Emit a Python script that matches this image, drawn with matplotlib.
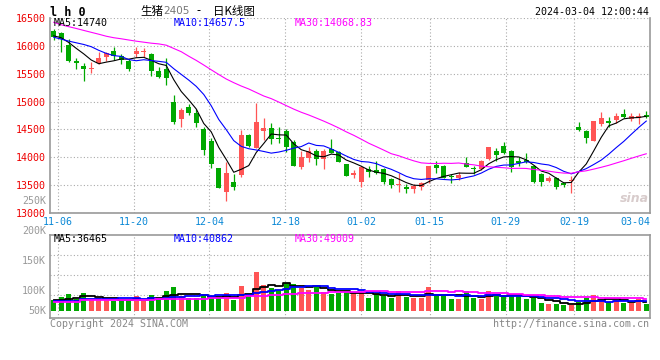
import numpy as np
import pandas as pd
import matplotlib
matplotlib.use("Agg")
import matplotlib.pyplot as plt

# ---- data (LH2405 daily K, 2023-11-03 .. 2024-03-04) ----
holidays = ["2024-01-01", "2024-02-09", "2024-02-12", "2024-02-13",
            "2024-02-14", "2024-02-15", "2024-02-16"]
tick_dates = ["11-06", "11-20", "12-04", "12-18", "01-02",
              "01-15", "01-29", "02-19", "03-04"]

opens = [16275, 16225, 16015, 15735, 15640, 15590, 15700, 15805, 15910, 15820,
         15730, 15850, 15895, 15850, 15555, 15580, 14990, 14695, 14905, 14795,
         14510, 14290, 13800, 13380, 13560, 13680, 14400, 14160, 14480, 14530,
         14340, 14470, 14280, 13820, 13980, 14115, 13965, 14145, 14095, 13880,
         13680, 13560, 13785, 13770, 13790, 13605, 13500, 13470, 13430, 13460,
         13590, 13860, 13845, 13670, 13620, 13905, 13815, 13790, 13965, 14115,
         14200, 14120, 13940, 13950, 13845, 13700, 13580, 13620, 13530, 13580,
         14550, 14470, 14300, 14590, 14655, 14670, 14775, 14695, 14700, 14760]
highs = [16300, 16245, 16115, 15775, 15700, 15705, 15895, 15895, 15985, 15850,
         15760, 15985, 15955, 15875, 15625, 15785, 15120, 14890, 14955, 14865,
         14550, 14350, 13815, 13920, 13695, 14490, 14420, 14980, 14700, 14620,
         14550, 14500, 14310, 14115, 14190, 14145, 14145, 14330, 14115, 13880,
         13770, 13845, 13845, 13935, 13800, 13620, 13710, 13515, 13515, 13560,
         13845, 13940, 13860, 13700, 13740, 14000, 13845, 13950, 14180, 14160,
         14280, 14130, 14010, 14085, 13860, 13710, 13665, 13650, 13545, 13665,
         14640, 14490, 14650, 14815, 14730, 14790, 14860, 14790, 14790, 14835]
lows = [16110, 15895, 15705, 15580, 15375, 15520, 15670, 15735, 15745, 15670,
        15555, 15805, 15805, 15465, 15420, 15295, 14590, 14550, 14760, 14550,
        14040, 13800, 13440, 13220, 13415, 13650, 14190, 14160, 14310, 14240,
        14250, 14100, 13840, 13790, 13920, 13860, 13790, 14070, 13920, 13665,
        13620, 13475, 13640, 13700, 13515, 13445, 13385, 13355, 13355, 13415,
        13545, 13710, 13620, 13545, 13590, 13820, 13700, 13770, 13950, 13940,
        14055, 13740, 13845, 13905, 13530, 13485, 13560, 13430, 13470, 13355,
        14480, 14260, 14300, 14560, 14550, 14620, 14700, 14650, 14590, 14700]
closes = [16155, 16115, 15730, 15700, 15580, 15605, 15780, 15875, 15820, 15745,
          15585, 15910, 15910, 15555, 15435, 15430, 14635, 14850, 14800, 14620,
          14130, 13880, 13455, 13720, 13470, 14400, 14210, 14630, 14530, 14320,
          14325, 14190, 13845, 14000, 14115, 13970, 14115, 14085, 13920, 13665,
          13710, 13820, 13740, 13725, 13560, 13500, 13520, 13425, 13490, 13530,
          13845, 13800, 13620, 13640, 13680, 13830, 13795, 13935, 14180, 14040,
          14085, 13820, 13905, 13920, 13560, 13560, 13620, 13470, 13500, 13590,
          14490, 14350, 14650, 14710, 14620, 14740, 14730, 14740, 14740, 14730]
volumes = [43500, 55300, 68300, 47400, 72300, 43500, 52500, 43500, 40700, 40700,
           43500, 60400, 40700, 63200, 43500, 80200, 96000, 60400, 52500, 52500,
           63200, 52500, 52500, 71100, 43500, 99900, 68300, 155200, 103900, 92000,
           84100, 110600, 107800, 92000, 84100, 96000, 76200, 65200, 69900, 79000,
           72300, 72300, 52500, 66000, 60400, 52500, 79000, 56500, 52500, 52500,
           94800, 60400, 60400, 47400, 47400, 79000, 52500, 47400, 79000, 60400,
           60400, 60400, 60400, 47400, 52500, 31600, 28800, 28800, 23700, 23700,
           36700, 50200, 63200, 43500, 36700, 43500, 31600, 31600, 47400, 28800]

# moving-average values before the window fills (data older than the chart)
ma5_head = [16180, 16145, 16060, 15955]
ma10_head = [16155, 16120, 16085, 16055, 16025, 15985, 15920, 15865, 15825]
ma30_head = [16423, 16378, 16344, 16312, 16277, 16243, 16209, 16173, 16146, 16127,
             16105, 16084, 16066, 16048, 16035, 16012, 15953, 15895, 15814, 15739,
             15656, 15570, 15486, 15405, 15339, 15279, 15226, 15163, 15100]
vma5_head = [43500, 43500, 47400, 51400]
vma10_head = [40700, 40700, 40700, 40700, 46200, 46200, 46200, 46200, 46200]
vma30_head = [34400, 34400, 34400, 34400, 43500, 43500, 43500, 43500, 43500, 43500,
              43500, 43500, 43500, 43500, 47400, 47400, 47400, 47400, 47400, 47400,
              47400, 52500, 52500, 52500, 52500, 52500, 58100, 58100, 58100]

price_ma_last = ["14740", "14657.5", "14068.83"]
vol_ma_last = ["36465", "40862", "49009"]
vol_labels = ["250K", "200K", "150K", "100K", "50K"]


def moving_avg(values, win, head):
    out = pd.Series(values, dtype=float).rolling(win).mean().to_numpy()
    out[:win - 1] = head
    return out


W, H = 660, 360


def fx(px):
    return px / W


def fy(py):
    return 1 - py / H


mono = "DejaVu Sans Mono"
cjk = ["Noto Sans CJK SC", "DejaVu Sans"]
c_red = "#ff5555"
c_green = "#00a800"
c_grid = "#aaaaaa"
c_frame = "#999999"

days = pd.bdate_range("2023-11-03", "2024-03-04")
days = days[~days.isin(pd.to_datetime(holidays))]
day_lbl = list(days.strftime("%m-%d"))

o = np.array(opens, float)
h = np.array(highs, float)
l = np.array(lows, float)
c = np.array(closes, float)
v = np.array(volumes, float)
n = len(c)
x = np.arange(n)
col = np.where(c >= o, c_red, c_green)

tick_idx = [day_lbl.index(d) for d in tick_dates]
tick_pos = [k * n / (n - 1) - 0.5 for k in tick_idx]

fig = plt.figure(figsize=(6.6, 3.6), dpi=100)
ax = fig.add_axes([fx(50), fy(213), 600 / W, 195 / H])
axv = fig.add_axes([fx(50), fy(318), 600 / W, 83 / H])

# ---- price panel ----
ax.vlines(x, l, h, colors=col, lw=0.9, zorder=3)
body = np.maximum(np.abs(c - o), 15)
ax.bar(x, body, bottom=np.minimum(o, c), width=0.72, color=col, lw=0, zorder=4)
ax.plot(x, moving_avg(c, 5, ma5_head), color="black", lw=0.8, zorder=5)
ax.plot(x, moving_avg(c, 10, ma10_head), color="#0000ff", lw=0.8, zorder=5)
ax.plot(x, moving_avg(c, 30, ma30_head), color="#ff00ff", lw=0.8, zorder=5)

ax.set_xlim(-0.5, n - 0.5)
ax.set_ylim(13000, 16500)
ax.set_yticks(range(13000, 16501, 500))
ax.set_yticklabels([str(t) for t in range(13000, 16501, 500)],
                   color="#ee0000", fontsize=7.2, family=mono)
for t in ax.get_yticklabels():
    t.set_va("center_baseline")
ax.set_xticks(tick_pos)
xl = ax.set_xticklabels(tick_dates, color="#0a88d6", fontsize=7.2, family=mono)
xl[-1].set_ha("right")
ax.tick_params(length=0, pad=3)
ax.grid(color=c_grid, ls=(0, (1, 2)), lw=0.8)
ax.spines["top"].set_visible(False)
for s in ["left", "right", "bottom"]:
    ax.spines[s].set_color(c_frame)
    ax.spines[s].set_linewidth(1.2)

# ---- volume panel ----
vpx = 3950  # volume per pixel
axv.bar(x, v, width=0.72, color=col, lw=0, zorder=3)
axv.plot(x, moving_avg(v, 5, vma5_head), color="black", lw=1.3, drawstyle="steps-mid", zorder=4)
axv.plot(x, moving_avg(v, 10, vma10_head), color="#0000ff", lw=1.3, drawstyle="steps-mid", zorder=4)
axv.plot(x, moving_avg(v, 30, vma30_head), color="#ff00ff", lw=1.3, drawstyle="steps-mid", zorder=4)
axv.set_xlim(-0.5, n - 0.5)
axv.set_ylim(-7 * vpx, 76 * vpx)
axv.set_yticks([16 * vpx, 36 * vpx, 56 * vpx])
axv.set_yticklabels([])
axv.set_xticks(tick_pos)
axv.set_xticklabels([])
axv.tick_params(length=0)
axv.grid(color=c_grid, ls=(0, (1, 2)), lw=0.8)
for s in ["left", "right", "bottom", "top"]:
    axv.spines[s].set_color(c_frame)
    axv.spines[s].set_linewidth(1.2)

# ---- texts ----
txt = dict(family=mono, fontsize=7.2, va="center")
fig.text(fx(54), fy(23), "MA5:" + price_ma_last[0], color="black", **txt)
fig.text(fx(174), fy(23), "MA10:" + price_ma_last[1], color="#0000ff", **txt)
fig.text(fx(295), fy(23), "MA30:" + price_ma_last[2], color="#ff00ff", **txt)
fig.text(fx(54), fy(239), "MA5:" + vol_ma_last[0], color="black", **txt)
fig.text(fx(174), fy(239), "MA10:" + vol_ma_last[1], color="#0000ff", **txt)
fig.text(fx(295), fy(239), "MA30:" + vol_ma_last[2], color="#ff00ff", **txt)

for lab, py in zip(vol_labels, [201, 231, 261, 291, 311]):
    fig.text(fx(46), fy(py), lab, color="#999999", ha="right", **txt)

fig.text(fx(50), fy(12), "l h 0", family=mono, fontsize=8.5, fontweight="bold",
         va="center", color="black")
fig.text(fx(140), fy(11), "生猪", family=cjk, fontsize=8.3, va="center")
fig.text(fx(163), fy(11.5), "2405", family="DejaVu Sans", fontsize=7.5,
         va="center", color="#777777")
fig.text(fx(196), fy(11), "-", family=cjk, fontsize=8.3, va="center")
fig.text(fx(213), fy(11), "日K线图", family=cjk, fontsize=8.3, va="center")
fig.text(fx(649), fy(12), "2024-03-04 12:00:44", ha="right", color="black", **txt)

fig.text(fx(50), fy(324), "Copyright 2024 SINA.COM", color="#888888", **txt)
fig.text(fx(649), fy(324), "http://finance.sina.com.cn", ha="right",
         color="#888888", **txt)
fig.text(fx(634), fy(199), "sina", family="DejaVu Sans", fontsize=9,
         fontstyle="italic", fontweight="bold", color="#d8cccc",
         ha="center", va="center")

fig.savefig("out.png", dpi=100)
